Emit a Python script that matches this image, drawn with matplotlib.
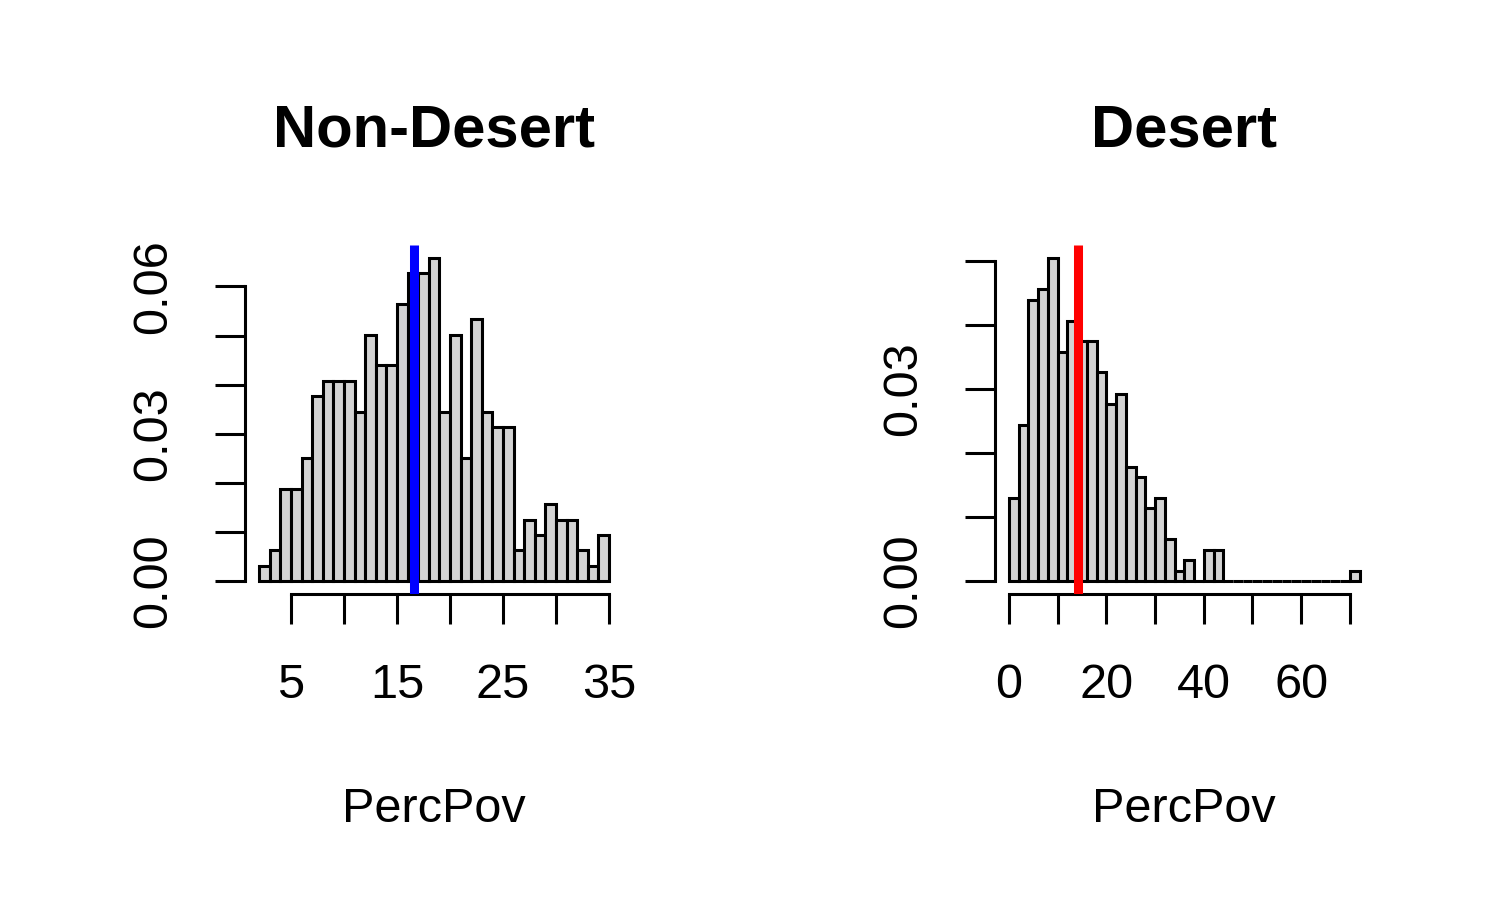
import numpy as np
import matplotlib
matplotlib.use("Agg")
import matplotlib.pyplot as plt

plt.rcParams['font.family'] = ['Liberation Sans', 'DejaVu Sans']

# ---- data ----
nd_edges = list(range(2, 36, 1))           # Non-Desert bin edges (width 1)
nd_density = [0.0031, 0.0063, 0.0188, 0.0188, 0.0251, 0.0376, 0.0408, 0.0408,
              0.0408, 0.0345, 0.0502, 0.0439, 0.0439, 0.0564, 0.0627, 0.0627,
              0.0658, 0.0345, 0.0502, 0.0251, 0.0533, 0.0345, 0.0313, 0.0313,
              0.0063, 0.0125, 0.0094, 0.0157, 0.0125, 0.0125, 0.0063, 0.0031,
              0.0094]
nd_mean = 16.63

d_edges = list(range(0, 74, 2))            # Desert bin edges (width 2)
d_density = [0.0130, 0.0244, 0.0440, 0.0456, 0.0505, 0.0358, 0.0407, 0.0375,
             0.0375, 0.0326, 0.0277, 0.0293, 0.0179, 0.0163, 0.0114, 0.0130,
             0.0065, 0.0016, 0.0033, 0.0, 0.0049, 0.0049,
             0.0, 0.0, 0.0, 0.0, 0.0, 0.0, 0.0, 0.0, 0.0, 0.0, 0.0, 0.0, 0.0,
             0.0016]
d_mean = 14.1

nd_xticks = [5, 10, 15, 20, 25, 30, 35]
nd_xlabels = ['5', '', '15', '', '25', '', '35']
nd_yticks = [0.00, 0.01, 0.02, 0.03, 0.04, 0.05, 0.06]
nd_ylabels = ['0.00', '', '', '0.03', '', '', '0.06']

d_xticks = [0, 10, 20, 30, 40, 50, 60, 70]
d_xlabels = ['0', '', '20', '', '40', '', '60', '']
d_yticks = [0.00, 0.01, 0.02, 0.03, 0.04, 0.05]
d_ylabels = ['0.00', '', '', '0.03', '', '']

W, H = 1500, 900
fig = plt.figure(figsize=(15, 9), dpi=100)
fig.patch.set_facecolor('white')

LW = 2.2
TICKFS = 35
TITLEFS = 43


def panel(rect_px, edges, dens, mean, color, title, xticks, xlabels, yticks, ylabels):
    x0, y0, x1, y1 = rect_px
    ax = fig.add_axes([x0 / W, 1 - y1 / H, (x1 - x0) / W, (y1 - y0) / H])
    e = np.array(edges, dtype=float)
    ax.bar(e[:-1], dens, width=np.diff(e), align='edge', color='#D3D3D3',
           edgecolor='black', linewidth=LW, zorder=2)
    xr = e[-1] - e[0]
    ax.set_xlim(e[0] - 0.04 * xr, e[-1] + 0.04 * xr)
    ym = max(dens)
    ax.set_ylim(-0.04 * ym, 1.04 * ym)
    ax.axvline(mean, color=color, linewidth=6.5, zorder=3, solid_capstyle='butt')

    for s in ['top', 'right']:
        ax.spines[s].set_visible(False)
    ax.spines['left'].set_bounds(yticks[0], yticks[-1])
    ax.spines['bottom'].set_bounds(xticks[0], xticks[-1])
    ax.spines['left'].set_linewidth(LW)
    ax.spines['bottom'].set_linewidth(LW)

    ax.set_xticks(xticks)
    ax.set_xticklabels(xlabels)
    ax.set_yticks(yticks)
    ax.set_yticklabels(ylabels, rotation=90, va='center')
    ax.tick_params(axis='both', direction='out', length=21.6, width=LW,
                   labelsize=TICKFS, color='black')
    ax.tick_params(axis='x', pad=28)
    ax.tick_params(axis='y', pad=28)
    ax.patch.set_alpha(0)

    xc = (x0 + x1) / 2 / W
    fig.text(xc, 1 - 146.7 / H, title, ha='center', va='baseline',
             fontsize=TITLEFS, fontweight='bold')
    fig.text(xc, 1 - 821.7 / H, 'PercPov', ha='center', va='baseline',
             fontsize=TICKFS)
    return ax


panel((245.2, 245, 623.0, 594), nd_edges, nd_density, nd_mean, '#0000FF',
      'Non-Desert', nd_xticks, nd_xlabels, nd_yticks, nd_ylabels)
panel((995.0, 245, 1373.6, 594), d_edges, d_density, d_mean, '#FF0000',
      'Desert', d_xticks, d_xlabels, d_yticks, d_ylabels)

fig.savefig('out.png', dpi=100)
